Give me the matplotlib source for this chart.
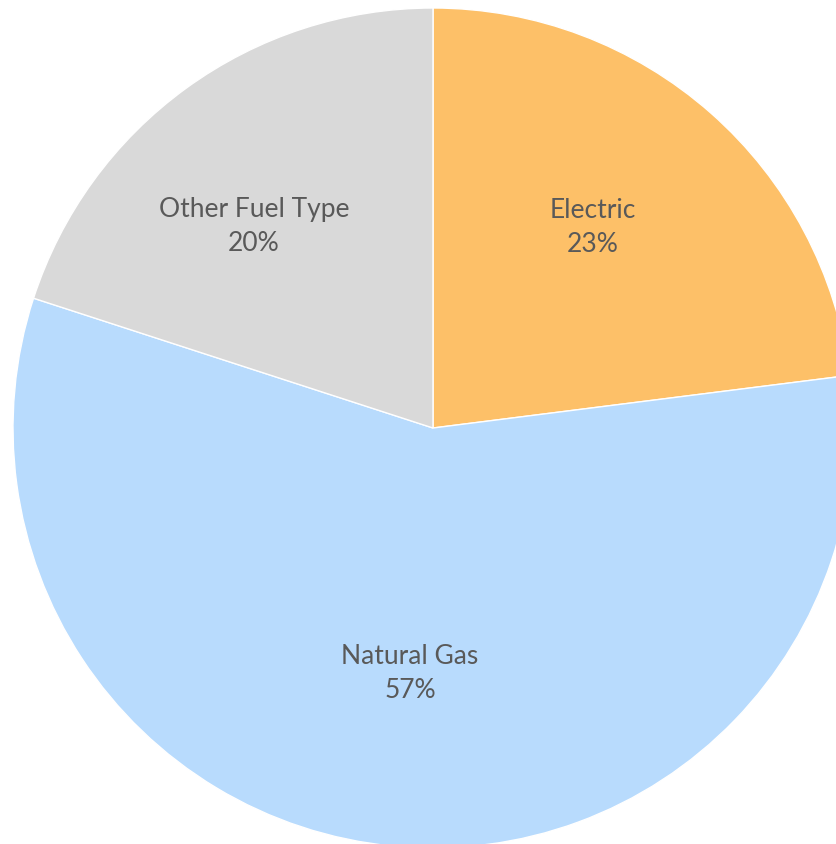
import matplotlib
matplotlib.use('Agg')
import matplotlib.pyplot as plt

# 数据
labels = ['Electric', 'Natural Gas', 'Other Fuel Type']
shares = [23, 57, 20]
colors = ['#FDC068', '#B8DBFD', '#D9D9D9']

# 标签位置（相对半径的坐标，仿照Excel的“最佳匹配”）
label_pos = [(0.381, 0.479), (-0.055, -0.583), (-0.426, 0.483)]

plt.rcParams['font.family'] = ['Lato', 'DejaVu Sans']

fig = plt.figure(figsize=(8.36, 8.45), dpi=100)
# 饼图中心约在 (433, 427) px，半径约 420 px
ax = fig.add_axes([13 / 836, -4 / 845, 840 / 836, 840 / 845])

wedges, texts, autotexts = ax.pie(
    shares,
    colors=colors,
    startangle=90,
    counterclock=False,
    autopct=lambda p: '',
    pctdistance=0.6,
    wedgeprops=dict(edgecolor='white', linewidth=1),
)

for t, lab, val, pos in zip(autotexts, labels, shares, label_pos):
    t.set_text(f'{lab}\n{val}%')
    t.set_position(pos)
    t.set_color('#595959')
    t.set_fontsize(19)
    t.set_linespacing(1.45)

ax.set_xlim(-1, 1)
ax.set_ylim(-1, 1)

plt.savefig('out.png', dpi=100)
